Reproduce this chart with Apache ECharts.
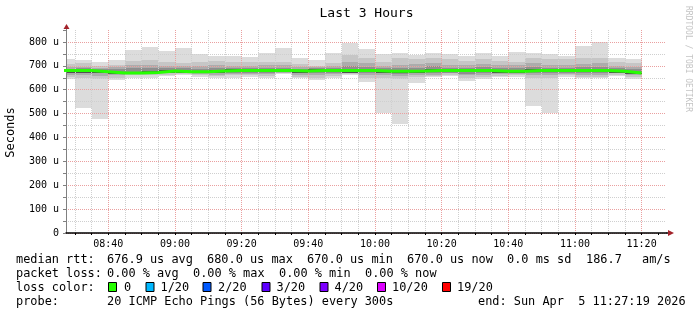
<!DOCTYPE html>
<html>
<head>
<meta charset="utf-8">
<script src="https://cdn.jsdelivr.net/npm/echarts@6/dist/echarts.min.js"></script>
<style>
html,body{margin:0;padding:0;background:#fff;}
#chart{width:697px;height:315px;}
</style>
</head>
<body>
<div id="chart"></div>
<script>
// ---- data (microseconds), one entry per 5-minute step (end time of step) ----
const stepEnds = ['08:30','08:35','08:40','08:45','08:50','08:55','09:00','09:05','09:10','09:15',
  '09:20','09:25','09:30','09:35','09:40','09:45','09:50','09:55','10:00','10:05',
  '10:10','10:15','10:20','10:25','10:30','10:35','10:40','10:45','10:50','10:55',
  '11:00','11:05','11:10','11:15','11:20'];
const pingMax = [729,725,715,725,766,780,762,776,748,743,741,736,755,776,734,725,753,797,771,748,755,746,753,750,741,753,741,757,755,748,741,785,801,734,729];
const pingMin = [645,525,476,641,650,650,657,662,652,650,650,655,650,665,650,641,650,662,634,501,457,630,652,657,638,644,652,655,533,501,655,650,650,657,645];
const band2Hi = [706,711,701,704,720,725,715,711,717,720,717,715,717,717,706,701,711,746,734,717,731,729,734,729,720,729,720,717,734,729,729,731,731,717,711];
const band2Lo = [655,650,645,650,660,660,662,665,660,658,660,660,658,668,655,650,658,665,650,648,645,655,658,662,650,652,658,660,648,650,660,655,655,662,655];
const band3Hi = [695,697,692,694,705,702,698,700,700,702,700,700,705,702,696,694,700,715,712,700,705,708,712,705,704,708,704,702,712,705,705,708,710,700,696];
const band3Lo = [662,660,658,660,665,665,668,668,665,663,665,665,665,672,662,660,665,670,662,660,658,662,663,668,660,662,665,665,662,662,665,662,662,668,662];
const band4Hi = [688,690,686,685,690,690,690,690,688,690,692,690,692,690,688,692,690,700,695,690,690,692,698,690,692,695,690,690,695,692,692,695,696,690,685];
const band4Lo = [670,670,668,664,668,668,670,670,668,670,670,670,670,675,668,668,670,672,668,668,665,668,670,672,665,668,670,670,670,670,672,670,670,670,666];
const band5Hi = [684,684,680,675,675,677,683,680,680,683,685,685,686,685,683,685,685,688,686,682,684,683,686,685,685,686,682,682,686,686,686,686,687,682,675];
const band5Lo = [672,671,668,664,666,668,671,668,668,672,673,674,673,674,671,673,673,672,674,670,670,672,673,673,674,673,671,671,673,674,674,674,673,671,665];
const medianRtt = [680,680,675,670,670,672,678,675,675,678,680,680,680,680,678,680,680,680,680,677,677,678,680,680,680,680,677,677,680,680,680,680,680,677,670];
const xTickLabels = ['08:40','09:00','09:20','09:40','10:00','10:20','10:40','11:00','11:20'];
const lossLabels = ['0','1/20','2/20','3/20','4/20','10/20','19/20'];
const lossColors = ['#26ff00','#00b8ff','#0059ff','#5e00ff','#7e00ff','#dd00ff','#ff0000'];

// ---- helpers ----
const toMin = s => { const p = s.split(':'); return (+p[0]) * 60 + (+p[1]); };
const STEP = 5;
const X_MIN = 8 * 60 + 27 + 19 / 60;   // 08:27:19
const X_MAX = 11 * 60 + 27 + 19 / 60;  // 11:27:19
const bandColors = ['#dcdcdc', '#c6c6c6', '#acacac', '#8e8e8e', '#505050'];

const smokeData = stepEnds.map((t, i) => {
  const e = toMin(t);
  return [e - STEP, e, pingMin[i], pingMax[i], band2Lo[i], band2Hi[i], band3Lo[i], band3Hi[i],
          band4Lo[i], band4Hi[i], band5Lo[i], band5Hi[i]];
});
const medianData = [[toMin(stepEnds[0]) - STEP, medianRtt[0]]].concat(
  stepEnds.map((t, i) => [toMin(t), medianRtt[i]]));

const minorTicks = [];
for (let v = 510; v <= 685; v += 5) minorTicks.push(v);
const labelTicks = xTickLabels.map(toMin);

function renderSmoke(params, api) {
  const cs = params.coordSys;
  const t0 = api.value(0), t1 = api.value(1);
  const children = [];
  for (let b = 0; b < 5; b++) {
    const lo = api.value(2 + 2 * b), hi = api.value(3 + 2 * b);
    const p0 = api.coord([t0, hi]);
    const p1 = api.coord([t1, lo]);
    const x0 = Math.round(Math.max(p0[0], cs.x));
    const x1 = Math.round(Math.min(p1[0], cs.x + cs.width));
    const y0 = Math.round(p0[1]), y1 = Math.round(p1[1]);
    children.push({ type: 'rect', shape: { x: x0, y: y0, width: x1 - x0, height: y1 - y0 },
      style: { fill: bandColors[b] } });
  }
  return { type: 'group', children };
}

const MONO = '"DejaVu Sans Mono", monospace';
const LEG_FS = 11.9;
function txt(s, x, y, extra) {
  return Object.assign({ type: 'text', x: x, y: y, silent: true,
    style: { text: s, font: LEG_FS + 'px ' + MONO, fill: '#000', textVerticalAlign: 'middle' } }, extra || {});
}
const graphics = [
  { type: 'text', x: 366.5, y: 13.5, style: { text: 'Last 3 Hours', font: '13px ' + MONO, fill: '#000', textAlign: 'center', textVerticalAlign: 'middle' } },
  { type: 'text', x: 11, y: 132.5, rotation: Math.PI / 2, style: { text: 'Seconds', font: '12px ' + MONO, fill: '#000', textAlign: 'center', textVerticalAlign: 'middle' } },
  { type: 'text', x: 688, y: 59, rotation: -Math.PI / 2, style: { text: 'RRDTOOL / TOBI OETIKER', font: '8px ' + MONO, fill: '#c4c4c4', textAlign: 'center', textVerticalAlign: 'middle' } },
  txt('median rtt:', 16, 260), txt('676.9 us avg', 107, 260), txt('680.0 us max', 207, 260),
  txt('670.0 us min', 307, 260), txt('670.0 us now', 407, 260), txt('0.0 ms sd', 507, 260),
  txt('186.7', 586, 260), txt('am/s', 642, 260),
  txt('packet loss:', 16, 274), txt('0.00 % avg', 107, 274), txt('0.00 % max', 193, 274),
  txt('0.00 % min', 279, 274), txt('0.00 % now', 365, 274),
  txt('loss color:', 16, 288),
  txt('probe:', 16, 302), txt('20 ICMP Echo Pings (56 Bytes) every 300s', 107, 302),
  txt('end: Sun Apr  5 11:27:19 2026', 478, 302)
];
const sqX = [108.5, 146, 203, 262, 320, 377.5, 442.5];
const lblX = [124, 160.5, 218, 276.5, 334.5, 392, 457];
lossLabels.forEach((l, i) => {
  graphics.push({ type: 'rect', shape: { x: sqX[i], y: 282.5, width: 8, height: 9 },
    style: { fill: lossColors[i], stroke: '#000', lineWidth: 1 } });
  graphics.push(txt(l, lblX[i], 288));
});

const chart = echarts.init(document.getElementById('chart'), null, { renderer: 'canvas' });
const option = {
  backgroundColor: '#fff',
  animation: false,
  grid: { left: 66, right: 31, top: 30, bottom: 82, containLabel: false },
  xAxis: {
    type: 'value', min: X_MIN, max: X_MAX,
    axisLine: { show: true, onZero: false, lineStyle: { color: '#000', width: 1.5 } },
    axisTick: { show: true, length: 2, customValues: minorTicks, lineStyle: { color: '#000' } },
    axisLabel: {
      customValues: labelTicks, margin: 6,
      fontFamily: 'DejaVu Sans Mono', fontSize: 10, color: '#000',
      formatter: v => { const h = Math.floor(v / 60), m = Math.round(v % 60); return (h < 10 ? '0' : '') + h + ':' + (m < 10 ? '0' : '') + m; }
    },
    splitLine: { show: true, showMinLine: true, showMaxLine: false,
      lineStyle: { type: [1, 1], width: 1, color: ['#cfcfcf', '#cfcfcf', '#eaa0a0', '#cfcfcf'] } }
  },
  yAxis: {
    type: 'value', min: 0, max: 850, interval: 50,
    axisLine: { show: true, lineStyle: { color: '#808080', width: 1 } },
    axisTick: { show: true, length: 3, lineStyle: { color: '#808080' } },
    axisLabel: {
      margin: 7, fontFamily: 'DejaVu Sans Mono', fontSize: 10, color: '#000',
      formatter: v => (v % 100 !== 0 ? '' : (v === 0 ? '0' : v + ' u'))
    },
    splitLine: { show: true, showMinLine: true, showMaxLine: false,
      lineStyle: { type: [1, 1], width: 1, color: ['#eaa0a0', '#cfcfcf'] } }
  },
  series: [
    { type: 'custom', z: -1, renderItem: renderSmoke, data: smokeData, encode: { x: [0, 1], y: [2, 3] } },
    { type: 'line', step: 'start', data: medianData, showSymbol: false, symbol: 'none', z: 5,
      lineStyle: { color: '#26ff00', width: 3 } }
  ],
  graphic: graphics
};
chart.setOption(option);

// axis arrows
const pTop = chart.convertToPixel({ gridIndex: 0 }, [X_MIN, 850]);
const pRight = chart.convertToPixel({ gridIndex: 0 }, [X_MAX, 0]);
const x0 = Math.round(pTop[0]) + 0.5, yT = Math.round(pTop[1]);
const yR = Math.round(pRight[1]), xR = Math.round(pRight[0]);
chart.setOption({ graphic: graphics.concat([
  { type: 'line', shape: { x1: x0, y1: yT, x2: x0, y2: yT - 3 }, style: { stroke: '#808080', lineWidth: 1 } },
  { type: 'polygon', shape: { points: [[x0 - 3, yT - 1], [x0 + 3, yT - 1], [x0, yT - 6]] }, style: { fill: '#a3222a' } },
  { type: 'line', shape: { x1: xR, y1: yR, x2: xR + 3, y2: yR }, style: { stroke: '#000', lineWidth: 1.5 } },
  { type: 'polygon', shape: { points: [[xR + 2, yR - 3], [xR + 2, yR + 3], [xR + 8, yR]] }, style: { fill: '#a3222a' } }
]) });
</script>
</body>
</html>
